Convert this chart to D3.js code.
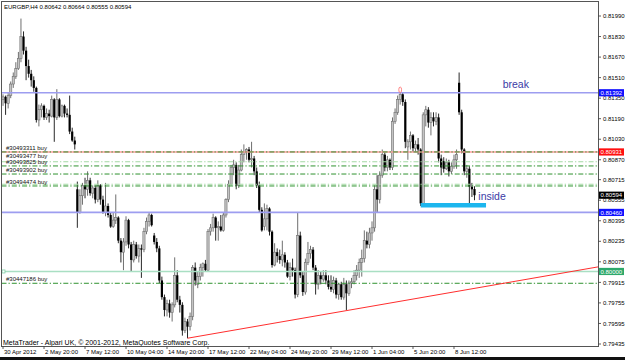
<!DOCTYPE html>
<html>
<head>
<meta charset="utf-8">
<title>EURGBP H4</title>
<script src="https://d3js.org/d3.v7.min.js"></script>
<style>
  body { margin: 0; background: #fff; }
  svg text { font-family: "Liberation Sans", Arial, sans-serif; }
</style>
</head>
<body>
<div id="chart"></div>
<script>
// H4 bars, 30 Apr 2012 onwards
const opens = [
  0.8134,0.8136,0.8131,0.8137,0.8146,0.8152,0.8158,0.8166,0.8183,0.8172,
  0.8160,0.8154,0.8149,0.8143,0.8118,0.8126,0.8129,0.8120,0.8123,0.8121,
  0.8134,0.8120,0.8134,0.8121,0.8129,0.8123,0.8122,0.8109,0.8102,0.8064,
  0.8046,0.8059,0.8067,0.8064,0.8071,0.8061,0.8065,0.8056,0.8067,0.8056,
  0.8046,0.8051,0.8044,0.8035,0.8040,0.8042,0.8024,0.8015,0.8023,0.8040,
  0.8021,0.8009,0.8021,0.8012,0.8018,0.8017,0.8031,0.8039,0.8044,0.8028,
  0.8023,0.8018,0.7993,0.7980,0.7970,0.7975,0.7968,0.7974,0.7997,0.7978,
  0.7974,0.7954,0.7961,0.7957,0.7965,0.8003,0.7990,0.7996,0.8003,0.8006,
  0.8001,0.8031,0.8034,0.8042,0.8034,0.8035,0.8032,0.8044,0.8056,0.8068,
  0.8081,0.8083,0.8067,0.8079,0.8091,0.8093,0.8095,0.8087,0.8088,0.8078,
  0.8067,0.8048,0.8035,0.8041,0.8049,0.8031,0.8005,0.8015,0.8012,0.8009,
  0.8013,0.8007,0.7996,0.8003,0.8001,0.7982,0.8028,0.7997,0.7984,0.8007,
  0.8014,0.8017,0.8003,0.7990,0.7997,0.7994,0.7997,0.7993,0.7988,0.7986,
  0.7993,0.7982,0.7990,0.7980,0.7990,0.7983,0.7991,0.7992,0.7997,0.8001,
  0.8007,0.8010,0.8024,0.8021,0.8030,0.8034,0.8064,0.8056,0.8075,0.8091,
  0.8081,0.8087,0.8081,0.8117,0.8124,0.8134,0.8138,0.8132,0.8097,0.8101,
  0.8106,0.8096,0.8099,0.8095,0.8053,0.8122,0.8126,0.8116,0.8120,0.8117,
  0.8120,0.8088,0.8086,0.8080,0.8085,0.8078,0.8082,0.8087,0.8147,0.8124,
  0.8095,0.8078,0.8080,0.8066,0.80642
];
const highs = [
  0.8138,0.8137,0.8139,0.8148,0.8155,0.8163,0.8171,0.8197,0.8187,0.8175,
  0.8165,0.8157,0.8152,0.8144,0.8130,0.8131,0.8130,0.8127,0.8126,0.8137,
  0.8135,0.8142,0.8135,0.8130,0.8130,0.8127,0.8137,0.8112,0.8105,0.8070,
  0.8064,0.8069,0.8073,0.8078,0.8073,0.8067,0.8067,0.8071,0.8068,0.8059,
  0.8069,0.8053,0.8046,0.8046,0.8060,0.8043,0.8026,0.8026,0.8043,0.8041,
  0.8023,0.8024,0.8023,0.8021,0.8021,0.8034,0.8042,0.8046,0.8045,0.8030,
  0.8026,0.8020,0.7996,0.7982,0.7978,0.7978,0.7976,0.8011,0.8001,0.7981,
  0.7976,0.7964,0.7963,0.7968,0.8005,0.8007,0.8000,0.8006,0.8007,0.8009,
  0.8033,0.8037,0.8045,0.8043,0.8039,0.8044,0.8046,0.8057,0.8071,0.8083,
  0.8087,0.8085,0.8083,0.8095,0.8099,0.8096,0.8097,0.8101,0.8090,0.8081,
  0.8070,0.8050,0.8053,0.8052,0.8050,0.8032,0.8022,0.8018,0.8017,0.8024,
  0.8015,0.8009,0.8007,0.8010,0.8003,0.8046,0.8031,0.8000,0.8010,0.8023,
  0.8020,0.8019,0.8005,0.8001,0.8000,0.8001,0.8001,0.7997,0.7997,0.7996,
  0.7995,0.7991,0.7992,0.7995,0.7993,0.7993,0.7995,0.8001,0.8005,0.8010,
  0.8017,0.8032,0.8031,0.8034,0.8039,0.8067,0.8075,0.8078,0.8095,0.8093,
  0.8090,0.8088,0.8120,0.8127,0.8137,0.8139,0.8139,0.8134,0.8103,0.8109,
  0.8107,0.8102,0.8104,0.8096,0.8124,0.8129,0.8128,0.8124,0.8124,0.8124,
  0.8123,0.8091,0.8089,0.8088,0.8087,0.8085,0.8091,0.8095,0.8155,0.8126,
  0.8096,0.8083,0.8082,0.8069,0.80664
];
const lows = [
  0.8129,0.8122,0.8127,0.8135,0.8143,0.8150,0.8157,0.8163,0.8169,0.8149,
  0.8151,0.8144,0.8140,0.8116,0.8113,0.8120,0.8118,0.8118,0.8116,0.8120,
  0.8101,0.8118,0.8120,0.8120,0.8120,0.8120,0.8107,0.8101,0.8095,0.8034,
  0.8045,0.8052,0.8057,0.8059,0.8059,0.8057,0.8053,0.8054,0.8052,0.8045,
  0.8043,0.8042,0.8034,0.8034,0.8037,0.8022,0.8007,0.8001,0.8020,0.8018,
  0.8000,0.8007,0.8010,0.8007,0.7995,0.8015,0.8029,0.8035,0.8035,0.8021,
  0.8015,0.7991,0.7978,0.7965,0.7965,0.7964,0.7961,0.7972,0.7976,0.7968,
  0.7950,0.7952,0.7948,0.7954,0.7962,0.7989,0.7987,0.7993,0.7996,0.8000,
  0.8000,0.8028,0.8031,0.8024,0.8024,0.8031,0.8031,0.8042,0.8054,0.8067,
  0.8075,0.8064,0.8065,0.8078,0.8085,0.8087,0.8085,0.8081,0.8075,0.8065,
  0.8046,0.8031,0.8032,0.8032,0.8028,0.8003,0.8004,0.8007,0.8006,0.8004,
  0.8003,0.7995,0.7993,0.7996,0.7979,0.7980,0.7995,0.7981,0.7982,0.8005,
  0.8010,0.8001,0.7982,0.7986,0.7990,0.7992,0.7990,0.7986,0.7984,0.7983,
  0.7979,0.7978,0.7978,0.7978,0.7970,0.7981,0.7987,0.7990,0.7993,0.7995,
  0.7996,0.8007,0.8018,0.8018,0.8024,0.8031,0.8046,0.8053,0.8073,0.8078,
  0.8078,0.8079,0.8079,0.8115,0.8122,0.8130,0.8129,0.8096,0.8087,0.8095,
  0.8093,0.8093,0.8091,0.8051,0.8052,0.8113,0.8112,0.8106,0.8113,0.8114,
  0.8085,0.8075,0.8077,0.8079,0.8074,0.8076,0.8080,0.8080,0.8122,0.8092,
  0.8075,0.8073,0.8053,0.8058,0.80555
];
const closes = [
  0.8136,0.8131,0.8137,0.8146,0.8152,0.8158,0.8166,0.8183,0.8172,0.8160,
  0.8154,0.8149,0.8143,0.8118,0.8126,0.8129,0.8120,0.8123,0.8121,0.8134,
  0.8120,0.8134,0.8121,0.8129,0.8123,0.8122,0.8109,0.8102,0.8099,0.8046,
  0.8059,0.8067,0.8064,0.8071,0.8061,0.8065,0.8056,0.8067,0.8056,0.8046,
  0.8051,0.8044,0.8035,0.8040,0.8042,0.8024,0.8015,0.8023,0.8040,0.8021,
  0.8009,0.8021,0.8012,0.8018,0.8017,0.8031,0.8039,0.8044,0.8036,0.8023,
  0.8018,0.7993,0.7980,0.7970,0.7975,0.7968,0.7974,0.7997,0.7978,0.7974,
  0.7954,0.7961,0.7957,0.7965,0.8003,0.7993,0.7996,0.8003,0.8006,0.8001,
  0.8031,0.8034,0.8042,0.8034,0.8035,0.8032,0.8044,0.8056,0.8068,0.8081,
  0.8083,0.8067,0.8079,0.8091,0.8093,0.8095,0.8087,0.8088,0.8078,0.8067,
  0.8048,0.8032,0.8041,0.8049,0.8031,0.8005,0.8015,0.8012,0.8009,0.8013,
  0.8007,0.7996,0.8003,0.8001,0.7982,0.8028,0.7997,0.7984,0.8007,0.8014,
  0.8017,0.8003,0.7990,0.7997,0.7994,0.7997,0.7993,0.7988,0.7986,0.7993,
  0.7982,0.7990,0.7980,0.7990,0.7983,0.7991,0.7992,0.7997,0.8001,0.8007,
  0.8010,0.8024,0.8021,0.8030,0.8034,0.8064,0.8056,0.8075,0.8091,0.8081,
  0.8087,0.8081,0.8117,0.8124,0.8134,0.8138,0.8132,0.8101,0.8101,0.8106,
  0.8096,0.8099,0.8095,0.8053,0.8122,0.8126,0.8116,0.8120,0.8117,0.8120,
  0.8088,0.8081,0.8080,0.8085,0.8078,0.8082,0.8087,0.8091,0.8124,0.8095,
  0.8078,0.8080,0.8066,0.8064,0.80594
];

const priceTicks = [0.81990,0.81830,0.81670,0.81510,0.81350,0.81190,0.81030,0.80870,
  0.80715,0.80555,0.80395,0.80235,0.80075,0.79915,0.79755,0.79595,0.79435];
const timeLabels = ["30 Apr 2012","2 May 20:00","7 May 12:00","10 May 04:00","14 May 20:00",
  "17 May 12:00","22 May 04:00","24 May 20:00","29 May 12:00","1 Jun 04:00","5 Jun 20:00","8 Jun 12:00"];
const timeLabelBars = [0,16,32,48,64,80,96,112,128,144,160,176];

// objects on the chart
const blueLevels = [0.81392, 0.80460];
const redLevel = 0.80931;
const greenLevel = 0.80000;
const orderLines = [0.80931, 0.80822, 0.80759, 0.80666, 0.79908];
const paleOrderLines = [0.80855, 0.80679];
const orderNames = ["#30493311 buy","#30493477 buy","#30493825 buy","#30493902 buy","#30494474 buy","#30447186 buy"];
const orderLabelPrices = [0.80931, 0.80869, 0.80822, 0.80759, 0.80666, 0.79908];
const trendBars = [72, 134];
const trendPrices = [0.79480, 0.79695];
const insideBars = [163, 188.5];
const insidePrice = 0.80515;
const breakMarkBar = 155;
const breakNote = {text: "break", bar: 195, price: 0.81430};
const insideNote = {text: "inside", bar: 185.5, price: 0.80553};
const lastPrice = 0.80594;

const W = 625, H = 360;
const L = 1.5, T = 1.5, R = 598.5, B = 346.5;

const svg = d3.select("#chart").append("svg")
  .attr("width", W).attr("height", H);
svg.append("rect").attr("width", W).attr("height", H).attr("fill", "#fff");

const x = d3.scaleLinear().domain([-0.4, 232.2]).range([2, 598]);
const y = d3.scaleLinear().domain([0.79435, 0.81990]).range([344, 16]);
const xEnd = x.domain()[1];

svg.append("clipPath").attr("id", "plot")
  .append("rect").attr("x", L).attr("y", T).attr("width", R - L).attr("height", B - T);
const g = svg.append("g").attr("clip-path", "url(#plot)");

// candles
const idx = d3.range(closes.length);
const up = i => closes[i] >= opens[i];
g.selectAll(".wick").data(idx).join("line")
  .attr("class", "wick")
  .attr("x1", i => x(i)).attr("x2", i => x(i))
  .attr("y1", i => y(highs[i])).attr("y2", i => y(lows[i]))
  .attr("stroke", i => up(i) ? "#555" : "#000")
  .attr("stroke-width", 0.85);
g.selectAll(".body").data(idx).join("rect")
  .attr("class", "body")
  .attr("x", i => x(i) - 1.1).attr("width", 2.2)
  .attr("y", i => y(Math.max(opens[i], closes[i])))
  .attr("height", i => Math.max(0.8, Math.abs(y(opens[i]) - y(closes[i]))))
  .attr("fill", i => up(i) ? "#c4c4c4" : "#000")
  .attr("stroke", i => up(i) ? "#6e6e6e" : "none")
  .attr("stroke-width", 0.6);

// horizontal levels
const hline = (p, color, w, dash) => g.append("line")
  .attr("x1", L).attr("x2", R).attr("y1", y(p)).attr("y2", y(p))
  .attr("stroke", color).attr("stroke-width", w)
  .attr("stroke-dasharray", dash || null);

hline(greenLevel, "#a9dfc3", 1.5);
g.append("rect").attr("x", 2).attr("y", y(greenLevel) - 1.5).attr("width", 3).attr("height", 3)
  .attr("fill", "#fff").attr("stroke", "#7fcfa6").attr("stroke-width", 0.8);
blueLevels.forEach(p => hline(p, "#9d9df0", 1.6));
hline(redLevel, "#ff9c9c", 1.6);
paleOrderLines.forEach(p => hline(p, "#a4d9a4", 1.1, "5,2,1.3,2"));
orderLines.forEach(p => hline(p, "#2f922f", 1, "5,2,1.3,2"));

// trend line, extended to the right edge
const trend = d3.scaleLinear().domain(trendBars).range(trendPrices);
g.append("line")
  .attr("x1", x(trendBars[0])).attr("y1", y(trendPrices[0]))
  .attr("x2", x(xEnd)).attr("y2", y(trend(xEnd)))
  .attr("stroke", "#ff2e2e").attr("stroke-width", 1);

// inside bar range
g.append("line")
  .attr("x1", x(insideBars[0])).attr("x2", x(insideBars[1]))
  .attr("y1", y(insidePrice)).attr("y2", y(insidePrice))
  .attr("stroke", "#1cb6ee").attr("stroke-width", 4.5);

// mark on the breakout high
g.append("ellipse")
  .attr("cx", x(breakMarkBar)).attr("cy", y(highs[breakMarkBar]) - 3.2)
  .attr("rx", 1.4).attr("ry", 2.8)
  .attr("fill", "none").attr("stroke", "#ff7878").attr("stroke-width", 0.9);

// order labels
g.selectAll(".order").data(orderNames).join("text")
  .attr("class", "order")
  .attr("x", 6).attr("y", (d, i) => y(orderLabelPrices[i]) - 2)
  .attr("font-size", 6).attr("fill", "#111").text(d => d);

[breakNote, insideNote].forEach(n => g.append("text")
  .attr("x", x(n.bar)).attr("y", y(n.price))
  .attr("font-size", 10.5).attr("fill", "#3a3aa6").text(n.text));

// header / footer
svg.append("text").attr("x", 4).attr("y", 9).attr("font-size", 6).attr("fill", "#000")
  .text("EURGBP,H4  0.80642 0.80664 0.80555 0.80594");
svg.append("text").attr("x", 3).attr("y", 345).attr("font-size", 7).attr("fill", "#000")
  .text("MetaTrader - Alpari UK, \u00a9 2001-2012, MetaQuotes Software Corp.");

// frame
svg.append("rect").attr("x", L).attr("y", T).attr("width", R - L).attr("height", B - T)
  .attr("fill", "none").attr("stroke", "#555").attr("stroke-width", 1);

// price axis
const pa = svg.append("g");
pa.selectAll("line").data(priceTicks).join("line")
  .attr("x1", R).attr("x2", R + 2.5).attr("y1", d => y(d)).attr("y2", d => y(d))
  .attr("stroke", "#333").attr("stroke-width", 0.8);
pa.selectAll("text").data(priceTicks).join("text")
  .attr("x", 603).attr("y", d => y(d) + 2.2)
  .attr("font-size", 6).attr("fill", "#000")
  .text(d => d.toFixed(5));

// coloured price tags
const tags = [
  {p: blueLevels[0], c: "#1010ff"},
  {p: redLevel, c: "#ff1010"},
  {p: lastPrice, c: "#000"},
  {p: blueLevels[1], c: "#1010ff"},
  {p: greenLevel, c: "#2da86a"}
];
tags.forEach(t => {
  svg.append("rect").attr("x", 599).attr("y", y(t.p) - 3.6).attr("width", 25).attr("height", 7.2)
    .attr("fill", t.c);
  svg.append("text").attr("x", 600.5).attr("y", y(t.p) + 2.2)
    .attr("font-size", 6).attr("fill", "#fff").text(t.p.toFixed(5));
});

// time axis
const ta = svg.append("g");
ta.selectAll("line").data(timeLabelBars).join("line")
  .attr("x1", d => x(d)).attr("x2", d => x(d)).attr("y1", B).attr("y2", B + 2.5)
  .attr("stroke", "#333").attr("stroke-width", 0.8);
ta.selectAll("text").data(timeLabels).join("text")
  .attr("x", (d, i) => x(timeLabelBars[i]) + 1).attr("y", 354)
  .attr("font-size", 6).attr("fill", "#000").text(d => d);

svg.append("rect").attr("x", 0).attr("y", 357).attr("width", W).attr("height", 3).attr("fill", "#111");
</script>
</body>
</html>
